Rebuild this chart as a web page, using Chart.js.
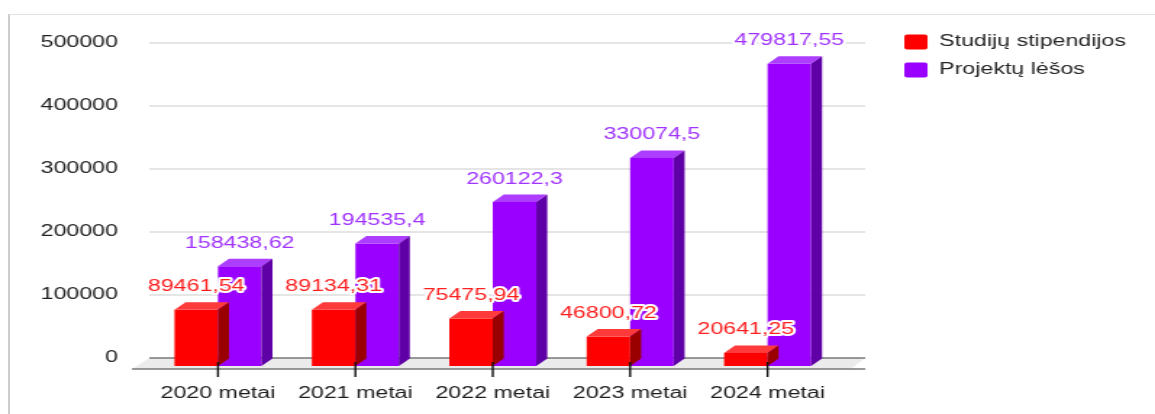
<!DOCTYPE html>
<html lang="lt">
<head>
<meta charset="utf-8">
<title>Studijų stipendijos ir projektų lėšos</title>
<script src="https://cdn.jsdelivr.net/npm/chart.js@4.4.1/dist/chart.umd.min.js"></script>
<style>
  html, body { margin: 0; padding: 0; background: #fff; }
  body { width: 1155px; height: 414px; overflow: hidden; position: relative; }
  .card { position: absolute; left: 8px; top: 14px; right: -10px; bottom: -10px;
          border-top: 1px solid #e2e2e2; border-left: 2px solid #cdcdcd; }
  /* the original picture is stretched sideways, so the chart is drawn narrow and scaled */
  .stretch { position: absolute; left: 0; top: 0; width: 797px; height: 414px;
             transform: scaleX(1.4492); transform-origin: 0 0; }
</style>
</head>
<body>
<div class="card"></div>
<div class="stretch"><canvas id="chart"></canvas></div>
<script>
const categories = ['2020 metai', '2021 metai', '2022 metai', '2023 metai', '2024 metai'];
const stipendijos = [89461.54, 89134.31, 75475.94, 46800.72, 20641.25];
const projektuLesos = [158438.62, 194535.4, 260122.3, 330074.5, 479817.55];
const yTicks = [0, 100000, 200000, 300000, 400000, 500000];

const FONT = '"Liberation Sans", Arial, sans-serif';
const DEPTH_X = 7.6;   // 3d depth of the bars
const DEPTH_Y = 7.5;
const BACK_Y = 8;      // back wall shift for the grid

// colours per dataset: front, top, side, label
const faceColors = [
    { front: '#ff0000', top: '#ff3a3a', side: '#9a0000', label: '#ff1f1f' },
    { front: '#9900ff', top: '#ad3dff', side: '#5f00a6', label: '#a033ff' }
];

function fmt(v) {
    return String(v).replace('.', ',');
}

// floor slab and grid on the back wall
const floorPlugin = {
    id: 'floor3d',
    beforeDatasetsDraw(chart) {
        const { ctx, chartArea } = chart;
        const yScale = chart.scales.y;
        const left = chartArea.left;
        const right = chartArea.right + 20;
        const base = yScale.getPixelForValue(0);
        ctx.save();

        ctx.fillStyle = '#ebebeb';
        ctx.beginPath();
        ctx.moveTo(left, base - BACK_Y);
        ctx.lineTo(right, base - BACK_Y);
        ctx.lineTo(right - 10, base + 3);
        ctx.lineTo(left - 12, base + 3);
        ctx.closePath();
        ctx.fill();

        ctx.lineWidth = 1.5;
        ctx.strokeStyle = '#dcdcdc';
        yTicks.forEach(v => {
            if (v === 0) return;
            const py = yScale.getPixelForValue(v) - BACK_Y;
            ctx.beginPath();
            ctx.moveTo(left, py);
            ctx.lineTo(right, py);
            ctx.stroke();
        });

        ctx.strokeStyle = '#7a7a7a';
        ctx.beginPath();
        ctx.moveTo(left, base - BACK_Y);
        ctx.lineTo(right, base - BACK_Y);
        ctx.moveTo(left - 12, base + 3);
        ctx.lineTo(right, base + 3);
        ctx.stroke();
        ctx.restore();
    }
};

// top and side faces, drawn after each dataset so the next one covers them
const barFacesPlugin = {
    id: 'barFaces',
    afterDatasetDraw(chart, args) {
        const ctx = chart.ctx;
        const colors = faceColors[args.index];
        ctx.save();
        args.meta.data.forEach(bar => {
            const l = bar.x - bar.width / 2;
            const r = bar.x + bar.width / 2;
            const t = bar.y;
            const b = bar.base;

            ctx.fillStyle = colors.top;
            ctx.beginPath();
            ctx.moveTo(l, t);
            ctx.lineTo(l + DEPTH_X, t - DEPTH_Y);
            ctx.lineTo(r + DEPTH_X, t - DEPTH_Y);
            ctx.lineTo(r, t);
            ctx.closePath();
            ctx.fill();

            ctx.fillStyle = colors.side;
            ctx.beginPath();
            ctx.moveTo(r, t);
            ctx.lineTo(r + DEPTH_X, t - DEPTH_Y);
            ctx.lineTo(r + DEPTH_X, b - DEPTH_Y);
            ctx.lineTo(r, b);
            ctx.closePath();
            ctx.fill();
        });
        ctx.restore();
    }
};

// value labels and the small ticks under each year
const labelsPlugin = {
    id: 'valueLabels',
    afterDatasetsDraw(chart) {
        const ctx = chart.ctx;
        const base = chart.scales.y.getPixelForValue(0);
        ctx.save();

        ctx.strokeStyle = '#111';
        ctx.lineWidth = 1.4;
        chart.scales.x.ticks.forEach((tick, i) => {
            const px = chart.scales.x.getPixelForTick(i);
            ctx.beginPath();
            ctx.moveTo(px, base - 4);
            ctx.lineTo(px, base + 11);
            ctx.stroke();
        });

        ctx.font = '16px ' + FONT;
        ctx.textAlign = 'center';
        ctx.textBaseline = 'middle';
        ctx.lineJoin = 'round';
        chart.data.datasets.forEach((ds, di) => {
            const meta = chart.getDatasetMeta(di);
            meta.data.forEach((bar, i) => {
                const text = fmt(ds.data[i]);
                const ty = bar.y - 23;
                ctx.lineWidth = 4;
                ctx.strokeStyle = '#fff';
                ctx.strokeText(text, bar.x, ty);
                ctx.fillStyle = faceColors[di].label;
                ctx.fillText(text, bar.x, ty);
            });
        });
        ctx.restore();
    }
};

Chart.defaults.font.family = FONT;
Chart.defaults.font.size = 16;

const ctx = document.getElementById('chart').getContext('2d');
window.mainChart = new Chart(ctx, {
    type: 'bar',
    data: {
        labels: categories,
        datasets: [{
            label: 'Studijų stipendijos',
            data: stipendijos,
            backgroundColor: faceColors[0].front,
            borderWidth: 0,
            categoryPercentage: 0.633,
            barPercentage: 1.0
        }, {
            label: 'Projektų lėšos',
            data: projektuLesos,
            backgroundColor: faceColors[1].front,
            borderWidth: 0,
            categoryPercentage: 0.633,
            barPercentage: 1.0
        }]
    },
    options: {
        responsive: true,
        maintainAspectRatio: false,
        animation: false,
        layout: { padding: { top: 22, right: 10, bottom: 0, left: 0 } },
        plugins: {
            legend: {
                position: 'right',
                align: 'start',
                maxWidth: 200,
                labels: {
                    boxWidth: 16,
                    boxHeight: 15,
                    padding: 12,
                    color: '#262626',
                    useBorderRadius: true,
                    borderRadius: 2
                }
            },
            tooltip: { enabled: false }
        },
        scales: {
            x: {
                grid: { display: false, drawTicks: false },
                border: { display: false },
                ticks: { color: '#1c1c1c', padding: 18, maxRotation: 0 },
                afterFit(scale) { scale.height = 48; }
            },
            xTop: {
                type: 'category',
                position: 'top',
                grid: { display: false, drawTicks: false },
                border: { display: false },
                ticks: { display: false },
                afterFit(scale) { scale.height = 29; }
            },
            y: {
                min: 0,
                max: 500000,
                grid: { display: false, drawTicks: false },
                border: { display: false },
                ticks: {
                    color: '#222',
                    padding: 21.6,
                    labelOffset: -BACK_Y,
                    callback: v => String(v)
                },
                afterBuildTicks(scale) { scale.ticks = yTicks.map(v => ({ value: v })); },
                afterFit(scale) { scale.width = 103; }
            },
            yGap: {
                position: 'right',
                grid: { display: false, drawTicks: false },
                border: { display: false },
                ticks: { display: false },
                afterFit(scale) { scale.width = 35; }
            }
        }
    },
    plugins: [floorPlugin, barFacesPlugin, labelsPlugin]
});
</script>
</body>
</html>
